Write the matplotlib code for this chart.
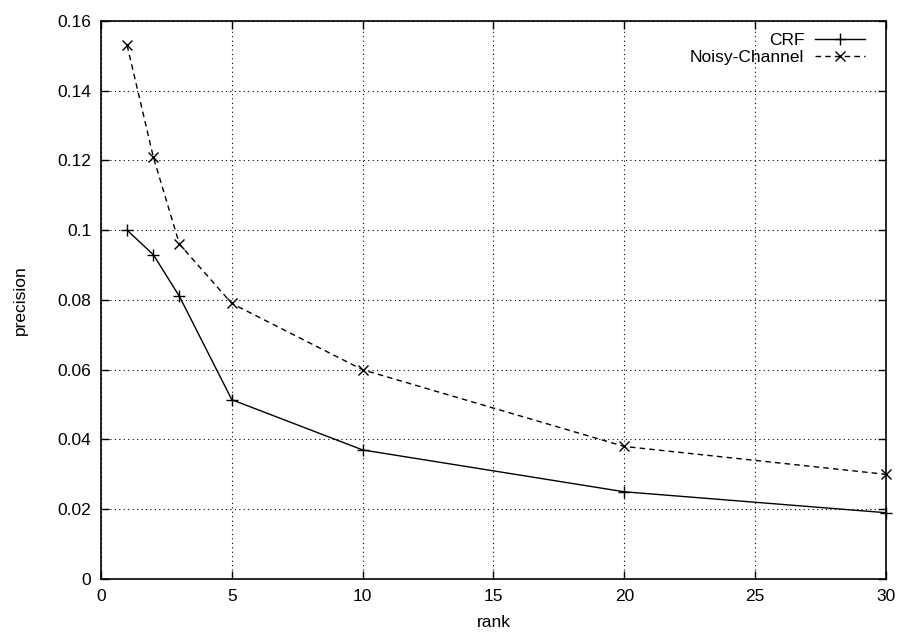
import matplotlib
matplotlib.use("Agg")
import matplotlib.pyplot as plt

plt.rcParams['font.family'] = ['Liberation Sans', 'DejaVu Sans']

rank = [1, 2, 3, 5, 10, 20, 30]
crf = [0.100, 0.093, 0.081, 0.0514, 0.037, 0.025, 0.019]
noisy = [0.153, 0.121, 0.096, 0.079, 0.060, 0.038, 0.030]

fig = plt.figure(figsize=(9, 6.32), dpi=100)
ax = fig.add_axes([0.1122, 0.0839, 0.8722, 0.8829])

ax.plot(rank, crf, color="black", linewidth=1.0, marker="+", markersize=8,
        markeredgewidth=1.0, label="CRF", clip_on=False)
ax.plot(rank, noisy, color="black", linewidth=1.0, linestyle=(0, (4, 3)),
        marker="x", markersize=7, markeredgewidth=1.0,
        label="Noisy-Channel", clip_on=False)

ax.set_xlim(0, 30)
ax.set_ylim(0, 0.16)
ax.set_xticks([0, 5, 10, 15, 20, 25, 30])
ax.set_yticks([0, 0.02, 0.04, 0.06, 0.08, 0.1, 0.12, 0.14, 0.16])
ax.set_xticklabels(["0", "5", "10", "15", "20", "25", "30"])
ax.set_yticklabels(["0", "0.02", "0.04", "0.06", "0.08", "0.1", "0.12",
                    "0.14", "0.16"])
ax.tick_params(direction="in", length=6, width=1.0, top=True, right=True,
               labelsize=12.5, color="black")
ax.tick_params(axis="y", pad=7)
ax.tick_params(axis="x", pad=7)
ax.grid(True, linestyle=(0, (1, 3)), color="black", linewidth=0.8)
for s in ax.spines.values():
    s.set_linewidth(1.2)

ax.set_xlabel("rank", fontsize=12.5, labelpad=8)
ax.set_ylabel("precision", fontsize=12.5, labelpad=21)

leg = ax.legend(loc="upper right", bbox_to_anchor=(1.0, 1.016),
                frameon=False, markerfirst=False,
                fontsize=12.5, handlelength=2.9, handletextpad=0.6,
                labelspacing=0.1, borderaxespad=0.8, borderpad=0.4)
for t in leg.get_texts():
    t.set_ha("right")
leg._legend_box.align = "right"

fig.savefig("out.png", dpi=100)
